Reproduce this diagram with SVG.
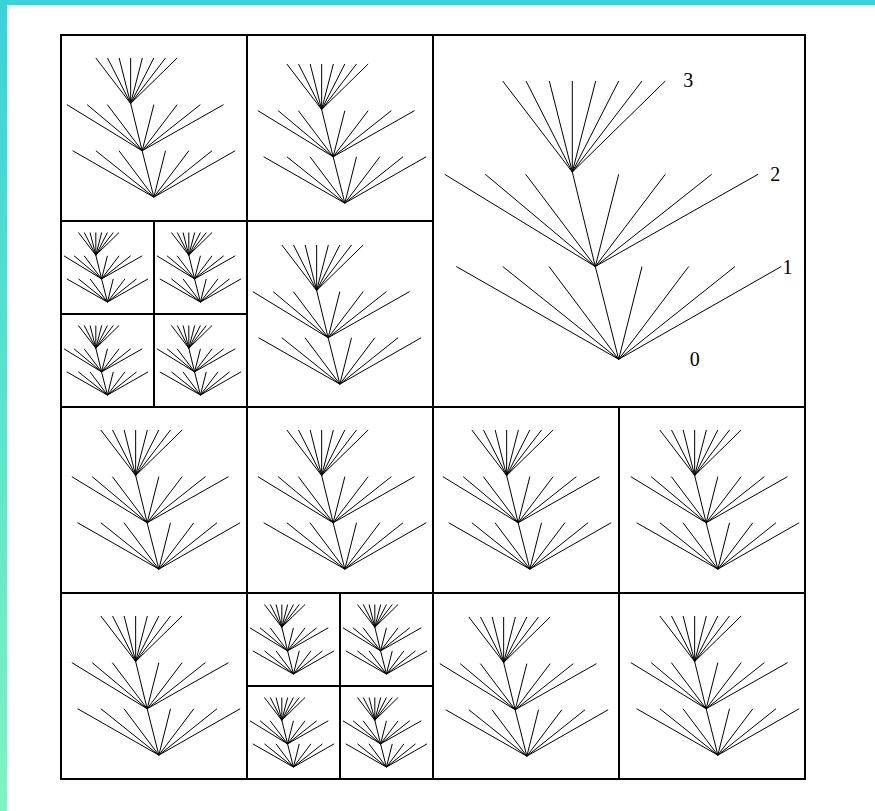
<svg xmlns="http://www.w3.org/2000/svg" xmlns:xlink="http://www.w3.org/1999/xlink" width="875" height="811" viewBox="0 0 875 811">
<style>
.grid{stroke:#000;stroke-width:2;fill:none}
.tree{stroke:#000;stroke-width:1;fill:none;vector-effect:non-scaling-stroke}
.lbl{font-family:"Liberation Serif","Times New Roman",serif;font-size:20px;fill:#000;text-anchor:middle}
</style>
<defs>
<linearGradient id="bg" x1="0" y1="0" x2="0" y2="1">
<stop offset="0" stop-color="#36d3d9"/>
<stop offset="1" stop-color="#7cf5c0"/>
</linearGradient>
<g id="tree">
<path class="tree" d="M185.7 324.3L23.3 231.5M185.7 324.3L69.7 231.5M185.7 324.3L116 231.5M185.7 324.3L162.3 231.5M185.7 324.3L209 231.5M185.7 324.3L255.7 231.5M185.7 324.3L302 231.5M185.7 324.3L348.3 231.5M162.3 231.5L11.7 139.3M162.3 231.5L52.3 139.3M162.3 231.5L92.7 139.3M162.3 231.5L139.3 137M162.3 231.5L185.7 139.3M162.3 231.5L232.3 139.3M162.3 231.5L278.7 139.3M162.3 231.5L325 139.3M139.3 137L69.7 46M139.3 137L93 46M139.3 137L116.3 46M139.3 137L139.3 46M139.3 137L162.7 46M139.3 137L185.7 46M139.3 137L209 46M139.3 137L232.3 46"/>
</g>
</defs>
<rect width="875" height="811" fill="url(#bg)"/>
<rect x="7" y="5" width="868" height="806" fill="#fff"/>
<g id="grid">
<rect class="grid" x="61" y="35" width="744" height="744"/>
<path class="grid" d="M247 35V779M433 35V779M619 407V779M61 221H433M61 407H805M61 593H805M154 221V407M61 314H247M340 593V779M247 686H433"/>
</g>
<g id="big-tree">
<use xlink:href="#tree" transform="translate(433,35)"/>
<text class="lbl" x="688.3" y="87">3</text>
<text class="lbl" x="775.3" y="180.5">2</text>
<text class="lbl" x="787.5" y="274">1</text>
<text class="lbl" x="694.7" y="366">0</text>
</g>
<g id="trees">
<use xlink:href="#tree" transform="translate(61,35) scale(0.5)"/>
<use xlink:href="#tree" transform="translate(252,41) scale(0.5)"/>
<use xlink:href="#tree" transform="translate(247,222) scale(0.5)"/>
<use xlink:href="#tree" transform="translate(66,407) scale(0.5)"/>
<use xlink:href="#tree" transform="translate(252,407) scale(0.5)"/>
<use xlink:href="#tree" transform="translate(437,407) scale(0.5)"/>
<use xlink:href="#tree" transform="translate(625,407) scale(0.5)"/>
<use xlink:href="#tree" transform="translate(66,593) scale(0.5)"/>
<use xlink:href="#tree" transform="translate(434,594) scale(0.5)"/>
<use xlink:href="#tree" transform="translate(625,593) scale(0.5)"/>
</g>
<g id="tiny-trees">
<use xlink:href="#tree" transform="translate(61,221) scale(0.25)"/>
<use xlink:href="#tree" transform="translate(154,221) scale(0.25)"/>
<use xlink:href="#tree" transform="translate(61,314) scale(0.25)"/>
<use xlink:href="#tree" transform="translate(154,314) scale(0.25)"/>
<use xlink:href="#tree" transform="translate(247,593) scale(0.25)"/>
<use xlink:href="#tree" transform="translate(340,593) scale(0.25)"/>
<use xlink:href="#tree" transform="translate(247,686) scale(0.25)"/>
<use xlink:href="#tree" transform="translate(340,686) scale(0.25)"/>
</g>
</svg>
